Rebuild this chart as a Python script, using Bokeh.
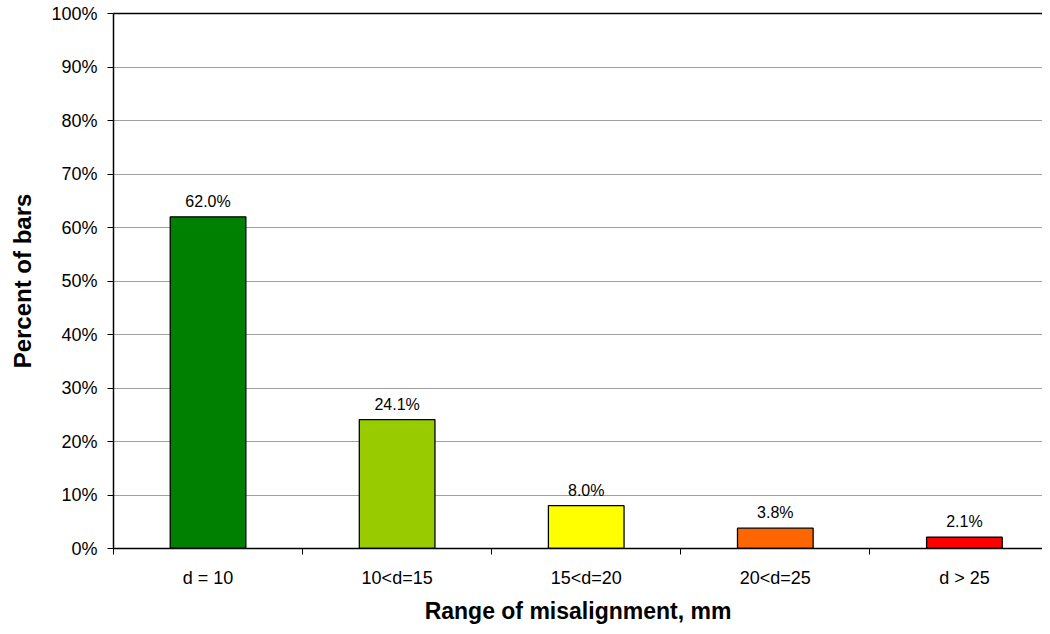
from bokeh.plotting import figure
from bokeh.models import ColumnDataSource, Range1d, FixedTicker, LinearAxis, PrintfTickFormatter
from bokeh.embed import file_html
from bokeh.resources import INLINE
from bokeh.core.properties import value

categories = ["d = 10", "10<d=15", "15<d=20", "20<d=25", "d > 25"]
percents = [62.0, 24.1, 8.0, 3.8, 2.1]
colors = ["#008000", "#99CC00", "#FFFF00", "#FF6600", "#FF0000"]
y_ticks = [0, 10, 20, 30, 40, 50, 60, 70, 80, 90, 100]

FONT = "Liberation Sans"

centers = [i + 0.5 for i in range(len(categories))]
bounds = [float(i) for i in range(len(categories) + 1)]
labels = ["%.1f%%" % v for v in percents]

src = ColumnDataSource(dict(x=centers, top=percents, color=colors, label=labels))

p = figure(width=1042, height=626, output_backend="svg", toolbar_location=None,
           x_range=Range1d(0, 4.913), y_range=Range1d(0, 100),
           min_border_left=113, min_border_right=0, min_border_top=13, min_border_bottom=0)
p.outline_line_color = None
p.background_fill_color = "white"
p.border_fill_color = "white"

p.vbar(x="x", top="top", width=0.4, bottom=0, fill_color="color", line_color="black",
       line_width=1.3, source=src)
p.text(x="x", y="top", text="label", source=src, text_align="center", text_baseline="bottom",
       y_offset=-7, text_font=value(FONT), text_font_size="16px", text_color="black")

# x axis
xa = p.xaxis[0]
xa.ticker = FixedTicker(ticks=centers, minor_ticks=bounds)
xa.major_label_overrides = {c: l for c, l in zip(centers, categories)}
xa.major_tick_out = 0
xa.major_tick_in = 0
xa.minor_tick_out = 6
xa.minor_tick_in = 0
xa.minor_tick_line_color = "black"
xa.axis_line_color = "black"
xa.axis_line_width = 1.5
xa.major_label_standoff = 13
xa.major_label_text_font = FONT
xa.major_label_text_font_size = "18px"
xa.major_label_text_color = "black"
xa.axis_label = "Range of misalignment, mm"
xa.axis_label_text_font = FONT
xa.axis_label_text_font_size = "23px"
xa.axis_label_text_font_style = "bold"
xa.axis_label_text_color = "black"
xa.axis_label_standoff = 7

# y axis
ya = p.yaxis[0]
ya.ticker = FixedTicker(ticks=y_ticks, minor_ticks=[])
ya.formatter = PrintfTickFormatter(format="%d%%")
ya.major_tick_out = 6
ya.major_tick_in = 0
ya.major_tick_line_color = "black"
ya.axis_line_color = "black"
ya.axis_line_width = 1.5
ya.major_label_standoff = 10
ya.major_label_text_font = FONT
ya.major_label_text_font_size = "18px"
ya.major_label_text_color = "black"
ya.axis_label = "Percent of bars"
ya.axis_label_text_font = FONT
ya.axis_label_text_font_size = "24px"
ya.axis_label_text_font_style = "bold"
ya.axis_label_text_color = "black"
ya.axis_label_standoff = 12

# top border
top_axis = LinearAxis(ticker=FixedTicker(ticks=[]), major_label_text_font_size="0px",
                      major_tick_out=0, major_tick_in=0, minor_tick_out=0, minor_tick_in=0,
                      axis_line_color="black", axis_line_width=1.5, major_label_standoff=0)
p.add_layout(top_axis, "above")

p.xgrid.grid_line_color = None
p.ygrid.ticker = FixedTicker(ticks=y_ticks)
p.ygrid.grid_line_color = "#A0A0A0"
p.ygrid.grid_line_width = 1

open("out.html", "w").write(file_html(p, INLINE))
